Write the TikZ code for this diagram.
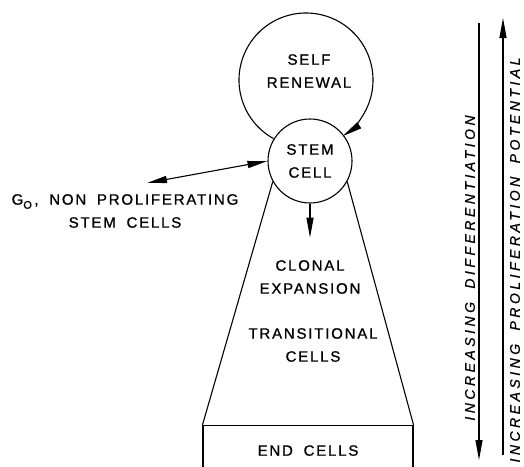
\documentclass[tikz,border=0pt]{standalone}
\usepackage{fontspec}
\setmainfont{Liberation Sans}
\newfontfamily\letterfont{Liberation Sans}[LetterSpace=12,WordSpace=1.8,FakeBold=1]
\newfontfamily\axisfont{Liberation Sans}[LetterSpace=25,FakeBold=0.8]
\usetikzlibrary{arrows.meta}

\begin{document}
\begin{tikzpicture}[x=1pt,y=-1pt,line width=1.1pt,
  >={Triangle[length=20pt,width=7pt]},
  font=\letterfont\fontsize{15}{23}\selectfont,
  every node/.style={align=center,inner sep=0pt},
  axis/.style={rotate=90,font=\axisfont\itshape\fontsize{14}{17}\selectfont}]
  \clip (0,0) rectangle (524,466);
  % cells
  \node[draw,circle,minimum size=84] (stem) at (310,161) {STEM\\CELL};
  \node (renew) at (309,71) {SELF\\RENEWAL};
  \node (clonal) at (310,277) {CLONAL\\EXPANSION};
  \node (trans) at (313,345) {TRANSITIONAL\\CELLS};
  \node[draw,minimum width=210,minimum height=50,anchor=north] (endc) at (308,425) {END CELLS};
  \node (gzero) at (125,211) {G\raisebox{-4pt}{\fontsize{11}{11}\selectfont O}\,, NON PROLIFERATING\\STEM CELLS};
  % self renewal loop
  \coordinate (loop) at (306,80);
  \draw[->] (loop) ++(119:67) arc[start angle=119,end angle=417,radius=67];
  % clone
  \draw (stem.209) -- (endc.north west);
  \draw (stem.331) -- (endc.north east);
  \draw[->,shorten >=22pt] (stem.south) -- (stem.south |- clonal.north);
  \coordinate (gend) at (147,183);
  \draw[<->] (gend) -- (stem.west);
  % scales
  \coordinate (dtop) at (479,23);
  \coordinate (dbot) at (479,460);
  \coordinate (ptop) at (503,18);
  \coordinate (pbot) at (503,455);
  \draw[->] (dtop) -- (dbot);
  \draw[->] (pbot) -- (ptop);
  \node[axis] (diff) at (470,268) {INCREASING\hspace{6pt} DIFFERENTIATION};
  \node[axis] (prolif) at (515,260) {INCREASING\hspace{6pt} PROLIFERATION\hspace{6pt} POTENTIAL};
\end{tikzpicture}
\end{document}
